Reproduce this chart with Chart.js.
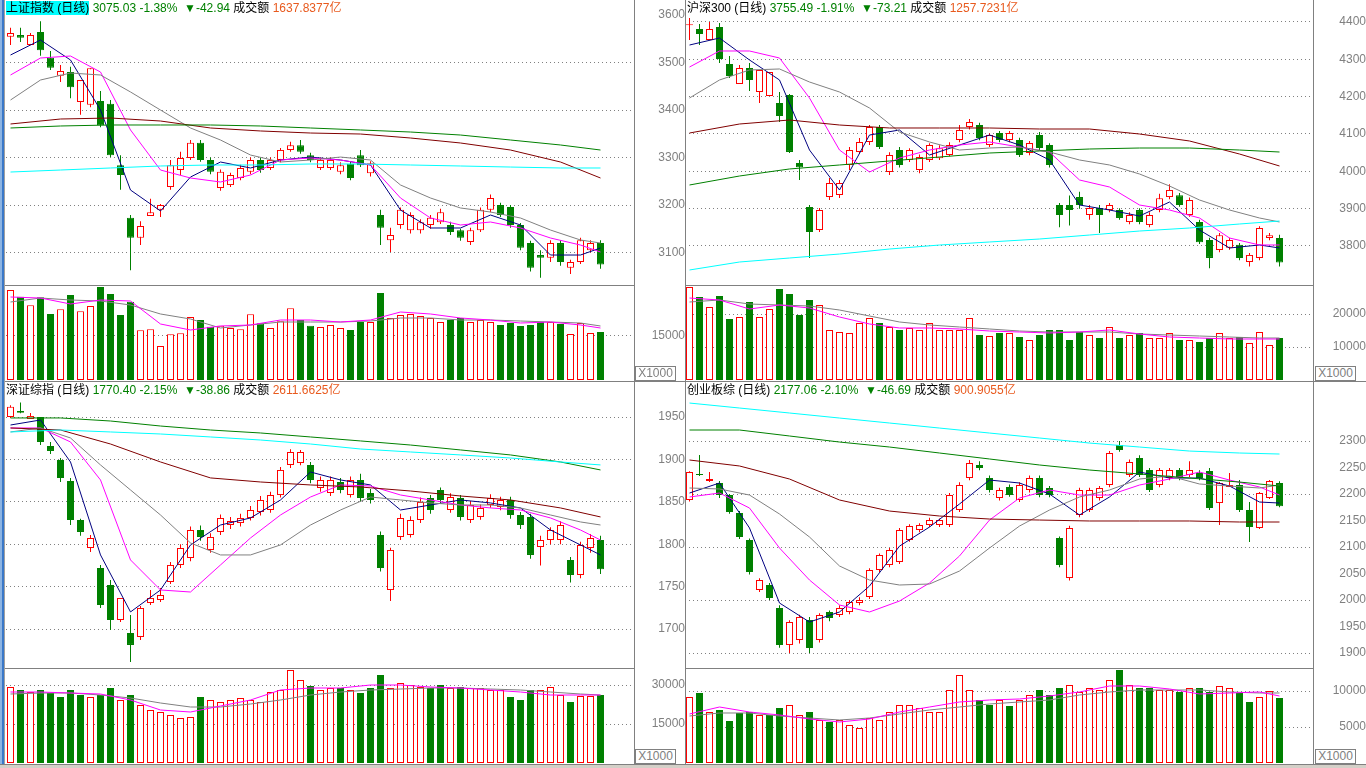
<!DOCTYPE html>
<html lang="zh-CN">
<head>
<meta charset="UTF-8">
<title>指数日线</title>
<script src="https://cdn.jsdelivr.net/npm/chart.js@4.4.1/dist/chart.umd.min.js"></script>
<style>
  body { margin:0; width:1366px; height:768px; overflow:hidden; position:relative; background:#fff;
         font-family:"Liberation Sans", "Noto Sans CJK SC", sans-serif; }
  canvas { position:absolute; }
  .ln { position:absolute; background:#808080; z-index:3; }
  .title { position:absolute; z-index:4; font-size:12px; line-height:15px; white-space:pre; color:#000; }
  .title .hl { background:#00ffff; }
  .title .g { color:#008000; }
  .title .o { color:#e85a1e; }
  .unit { position:absolute; z-index:4; width:39px; height:13px; border:1px solid #808080; color:#808080;
          font-size:12px; line-height:13px; text-align:center; background:#fff; }
</style>
</head>
<body>

<canvas id="shP" width="679" height="285" style="left:6px;top:0px"></canvas>
<canvas id="shV" width="679" height="94" style="left:6px;top:286px"></canvas>
<canvas id="hsP" width="681" height="285" style="left:685px;top:0px"></canvas>
<canvas id="hsV" width="681" height="94" style="left:685px;top:286px"></canvas>
<canvas id="szP" width="679" height="286" style="left:6px;top:382px"></canvas>
<canvas id="szV" width="679" height="94" style="left:6px;top:669px"></canvas>
<canvas id="cyP" width="681" height="286" style="left:685px;top:382px"></canvas>
<canvas id="cyV" width="681" height="94" style="left:685px;top:669px"></canvas>

<!-- frame -->
<div class="ln" style="left:0;top:0;width:2px;height:768px;background:#8db4e2"></div>
<div class="ln" style="left:2px;top:0;width:2px;height:768px;background:#3a78c8"></div>
<div class="ln" style="left:4px;top:0;width:1px;height:768px;background:#a0a0a0"></div>
<div class="ln" style="left:634px;top:0;width:1px;height:765px"></div>
<div class="ln" style="left:685px;top:0;width:1px;height:765px"></div>
<div class="ln" style="left:1313px;top:0;width:1px;height:765px"></div>
<div class="ln" style="left:5px;top:285px;width:629px;height:1px"></div>
<div class="ln" style="left:685px;top:285px;width:628px;height:1px"></div>
<div class="ln" style="left:5px;top:381px;width:1361px;height:1px"></div>
<div class="ln" style="left:5px;top:668px;width:629px;height:1px"></div>
<div class="ln" style="left:685px;top:668px;width:628px;height:1px"></div>
<div class="ln" style="left:0;top:764px;width:1366px;height:1px"></div>
<div class="ln" style="left:0;top:765px;width:1366px;height:3px;background:#d4d0c8"></div>

<div class="title" style="left:6px;top:1px"><span class="hl">上证指数 (日线)</span> <span class="g">3075.03 -1.38%  ▼-42.94</span> 成交额 <span class="o">1637.8377亿</span></div>
<div class="title" style="left:687px;top:1px">沪深300 (日线) <span class="g">3755.49 -1.91%  ▼-73.21</span> 成交额 <span class="o">1257.7231亿</span></div>
<div class="title" style="left:6px;top:383px">深证综指 (日线) <span class="g">1770.40 -2.15%  ▼-38.86</span> 成交额 <span class="o">2611.6625亿</span></div>
<div class="title" style="left:687px;top:383px">创业板综 (日线) <span class="g">2177.06 -2.10%  ▼-46.69</span> 成交额 <span class="o">900.9055亿</span></div>

<div class="unit" style="left:635px;top:366px">X1000</div>
<div class="unit" style="left:1315px;top:366px">X1000</div>
<div class="unit" style="left:635px;top:749px">X1000</div>
<div class="unit" style="left:1315px;top:749px">X1000</div>

<script>
// candle index positions of the moving-average readings
const shortIdx = [0,3,6,9,12,15,18,21,24,27,30,33,36,39,42,45,48,51,54,57,59];
const longIdx  = [0,5,10,15,20,25,30,35,40,45,50,55,59];

// ---- 上证指数 ----
const shO = [3554,3558,3537,3564,3510,3472,3480,3417,3411,3419,3413,3284,3173,3131,3177,3190,3238,3274,3299,3331,3295,3236,3242,3257,3270,3295,3278,3295,3316,3326,3305,3278,3278,3270,3287,3305,3267,3179,3126,3158,3147,3147,3158,3164,3158,3147,3122,3147,3190,3200,3196,3158,3120,3095,3089,3120,3068,3080,3105,3120];
const shC = [3562,3552,3558,3526,3489,3482,3448,3463,3488,3368,3305,3263,3131,3156,3185,3200,3284,3299,3331,3295,3270,3270,3263,3278,3295,3274,3295,3316,3326,3312,3295,3295,3295,3284,3257,3284,3288,3152,3137,3190,3179,3164,3173,3185,3143,3131,3147,3190,3215,3179,3158,3110,3068,3089,3120,3080,3080,3126,3120,3075.03];
const shH = [3573,3573,3562,3587,3524,3495,3491,3463,3488,3440,3421,3305,3179,3166,3213,3202,3295,3312,3337,3337,3300,3275,3268,3285,3300,3300,3300,3320,3333,3337,3310,3300,3300,3290,3292,3316,3292,3190,3152,3195,3185,3170,3179,3192,3165,3150,3152,3195,3222,3205,3200,3162,3125,3105,3126,3126,3085,3131,3126,3126];
const shL = [3537,3543,3537,3514,3484,3459,3425,3390,3406,3364,3301,3232,3063,3116,3177,3175,3232,3263,3295,3291,3265,3230,3238,3252,3265,3268,3274,3290,3312,3308,3290,3274,3274,3265,3252,3280,3260,3116,3101,3150,3140,3140,3150,3160,3137,3125,3116,3143,3185,3175,3152,3105,3060,3047,3080,3072,3055,3076,3100,3066];
const shVol = [30681,28397,25465,28192,22499,24102,28977,23420,25227,31704,29317,22159,26692,16943,17284,11591,15579,15920,21477,20454,18170,18511,17727,17284,22397,19329,17727,20011,24443,20454,18511,18068,18750,17727,17045,19772,19772,29658,21136,22159,22499,21818,21136,19772,20454,21136,19772,20454,19772,18750,19431,18409,18750,19772,19772,19090,15681,19431,16022,16363];
const shMa5  = [3515.8,3547.4,3505.3,3400,3231.6,3187.5,3259,3290.6,3278,3294.8,3301,3294.8,3284.3,3189.5,3151.7,3151.7,3179,3158,3094.8,3094.8,3109.6];
const shMa10 = [3473.7,3509.5,3513.7,3480,3358,3273.7,3256.9,3248.5,3263.2,3294.8,3299,3294.8,3284.3,3214.8,3172.7,3158,3164.3,3151.7,3130.6,3115.8,3101.1];
const shMa20 = [3421.1,3463.2,3477.9,3473.7,3438,3400,3362.2,3336.9,3305.3,3290.6,3294.8,3301,3294.8,3242.2,3214.8,3193.8,3185.3,3172.7,3147.4,3126.4,3120.1];
const shMa60  = [3370.6,3381.1,3383.2,3376.9,3362.2,3355.9,3351.6,3349.5,3341.1,3330.6,3315.8,3290.6,3256.9];
const shMa120 = [3362.2,3366.4,3368.5,3368.5,3368.5,3366.4,3362.2,3358,3353.7,3347.4,3336.9,3326.4,3315.8];
const shMa250 = [3269.5,3273.7,3278,3282.2,3284.3,3284.3,3286.4,3286.4,3284.3,3282.2,3280,3278,3278];
const shVolMa5  = [28295,27954,25908,27272,26931,19090,17045,18409,18750,20454,20454,19772,20454,23181,22500,21136,20454,19431,19772,18750,17727];
const shVolMa10 = [26590,27954,27272,26931,25568,22500,20795,17727,18750,19772,19772,19772,20113,21136,21136,20454,20454,20113,19772,19431,18409];
const shTicks = [3100,3200,3300,3400,3500,3600];
const shGrid  = [3100,3200,3300,3400,3500];
const shVolTicks = [15000];

// ---- 沪深300 ----
const hsO = [4391,4381.2,4351.7,4386.6,4287.4,4233.9,4276.7,4212.4,4201.7,4183,4204.4,4022,3904.3,3842.7,3931.1,3936.5,4016.9,4051.7,4078.5,4118.7,3998.3,4057,4030.3,4003.5,4030.3,4035,4043.7,4083.8,4118.7,4124,4070.4,4102.6,4083.8,4083.8,4049,4097.2,4070.4,3909.7,3909.7,3931,3882.9,3901.6,3896.3,3896.3,3864,3896,3856,3896,3931,3936,3883,3864,3816,3789,3795,3803,3757,3768,3821,3821];
const hsC = [4394,4367.8,4381.2,4300.8,4255.3,4276.7,4244.6,4271.4,4266,4148.1,4052,4011,3837.3,3896.3,3968.6,3968.6,4057,4078.5,4118.7,4065,4043.7,4016.9,4057,4038.3,4070.4,4062,4070.4,4110.6,4132,4089,4097.2,4083.8,4102.6,4043.7,4075.8,4062.4,4016.9,3882.9,3896.3,3909.7,3901.6,3882.9,3909.7,3875,3883,3864,3883,3928,3950,3910,3923,3810,3768,3829,3816,3768,3776,3848,3829,3755.49];
const hsH = [4410.7,4394.6,4400,4397.3,4308.9,4284.8,4290.1,4271.4,4266,4212.4,4207,4030,3909.7,3901.6,3982,3976.7,4065,4089,4124,4124,4051,4065,4062,4045,4075,4070,4078,4124,4140,4130,4102,4108,4108,4090,4081,4105,4075,3915,3935,3945,3910,3910,3915,3901,3890,3901,3890,3940,3965,3942,3930,3870,3822,3835,3822,3808,3781,3853,3835,3830];
const hsL = [4351.7,4338.3,4351.7,4290.1,4250,4233.9,4215.1,4183,4201.7,4132,4049,3976.7,3767.7,3837.3,3923.1,3928.5,4003.5,4046.4,4070.5,4060,3990,4010,4025,3995,4025,4030,4040,4078,4112,4083,4065,4078,4078,4038,4043,4057,4010,3850,3855,3900,3870,3835,3890,3870,3858,3858,3850,3890,3925,3905,3878,3805,3740,3783,3790,3762,3745,3762,3815,3745];
const hsVol = [28182,25151,22121,25454,18485,19091,23636,19091,21515,27576,26060,19697,24242,22727,15152,14545,14242,17273,18788,17273,16061,15152,15758,15152,17273,15152,15152,15152,18788,13636,13333,14242,14242,13030,12121,13636,15152,15152,12121,14545,13636,12727,16061,12727,13636,14242,12727,12727,14242,12121,12121,11515,12727,14242,12727,13030,11212,14545,10606,12727];
const hsMa5  = [4338.3,4357.1,4298.2,4244.6,4057,3949.9,4097.2,4110.6,4043.7,4070.4,4097.2,4070.4,4030.3,3909.7,3896.3,3880.2,3917.7,3842.7,3794.5,3802.6,3794.5];
const hsMa10 = [4279.4,4322.3,4322.3,4303.5,4196.4,4057,3998.1,4035.6,4057,4070.4,4078.5,4065.1,4051.7,3976.7,3957.9,3909.7,3896.3,3874.9,3821.3,3802.6,3802.6];
const hsMa20 = [4196.4,4244.6,4271.4,4274.1,4239.2,4212.4,4169.6,4105.3,4078.5,4057,4062.4,4065.1,4051.7,4030.3,4016.9,3992.8,3960.6,3923.1,3896.3,3874.9,3864.2];
const hsMa60  = [4102.6,4126.7,4137.4,4124,4116,4116,4116,4113.3,4113.3,4099.9,4081.2,4046.3,4014.2];
const hsMa120 = [3963.3,3987.4,4006.2,4016.9,4027.6,4038.3,4049,4054.4,4059.7,4062.4,4062.4,4057,4051.7];
const hsMa250 = [3735.6,3757,3767.7,3778.4,3791.8,3802.5,3810.6,3818.6,3829.3,3840,3848.1,3858.8,3866.8];
const hsVolMa5  = [24848,24242,21515,22727,21818,19091,16970,15758,15758,15455,14848,14545,14242,14545,15152,13939,13030,12727,12424,12424,12424];
const hsVolMa10 = [23636,24242,23030,22727,22424,21212,19394,17576,16667,16061,15455,14848,14545,14545,14545,13939,13636,13333,13030,12727,12727];
const hsTicks = [3800,3900,4000,4100,4200,4300,4400];
const hsVolTicks = [10000,20000];

// ---- 深证综指 ----
const szO = [1950,1957,1947.7,1950,1915.9,1899.4,1874.6,1828.6,1795.6,1772,1752,1710.7,1695.4,1690.7,1730.8,1734.3,1755.5,1775.6,1783.8,1816.8,1793.3,1814.5,1822.7,1825,1831,1838,1840.4,1858,1893.5,1895.8,1893.5,1866.4,1860.5,1873.4,1858,1875.8,1860.5,1811,1746,1808.6,1811,1828.6,1854.6,1864,1840.4,1854.6,1828.6,1832.2,1846.3,1844,1852.2,1834.5,1832.2,1796.8,1805,1805,1781.5,1763.8,1795.6,1805];
const szC = [1962,1955,1951.3,1920.6,1910,1878,1828.6,1814.5,1807.4,1728.4,1710.7,1736.7,1681.3,1724.9,1736.7,1740.2,1775.6,1795.6,1816.8,1808.6,1808.6,1831,1827.4,1831,1840.4,1852.2,1858,1887.6,1908.8,1908.8,1875.8,1875.8,1875.8,1864,1875.8,1854.6,1852.2,1772,1793.3,1831,1828.6,1849.9,1840.4,1852.2,1855.7,1832.2,1846.3,1842.8,1854.6,1852.2,1834.5,1822.7,1787.4,1805,1816.8,1822.7,1763.8,1799.1,1807.4,1770.40];
const szH = [1964,1967,1954.7,1950,1920.6,1901.7,1878.2,1830,1811,1775.6,1758,1736.7,1716.6,1727.2,1746,1748.5,1779,1800,1821,1822,1813,1835,1832,1836,1845,1857,1862,1891,1912,1911,1897,1880,1880,1878,1880,1883,1865,1815,1796,1836,1833,1855,1858,1867,1860,1858,1851,1847,1859,1856,1856,1838,1836,1810,1820,1827,1785,1803,1812,1810];
const szL = [1949,1954.6,1947.7,1917,1906.4,1873.4,1822.7,1810,1791,1724.9,1698.9,1708.3,1661.2,1687.1,1728.4,1732,1753.2,1772,1780,1804,1790,1811,1818,1821,1828,1834,1837,1855,1890,1893,1872,1862,1857,1860,1855,1850,1848,1768,1733,1805,1808,1825,1836,1848,1837,1828,1825,1829,1843,1840,1830,1818,1783,1775,1800,1800,1755,1760,1790,1765];
const szVol = [29230,28076,27307,28076,26922,25384,28076,26153,25384,26153,28845,24230,26153,22307,20384,19615,18461,17307,17692,25384,24230,23461,24230,24999,24230,23461,27307,28076,35768,31922,29614,28076,28845,28845,28076,26922,28845,33845,28845,30768,29999,29230,28845,29999,28845,29230,28845,28845,28076,28076,25384,24230,28076,28076,29230,26153,23461,25768,25768,26153];
const szMa5  = [1940.6,1946.5,1897,1787.4,1720.2,1746.1,1799.2,1822.7,1831,1852.2,1885.2,1875.8,1869.9,1840.4,1846.3,1852.2,1848.7,1842.8,1816.8,1799.2,1787.4];
const szMa10 = [1937.1,1937.1,1920.6,1875.8,1781.5,1746.1,1743.7,1775.6,1807.4,1834.5,1855.7,1869.9,1868.7,1858.1,1852.2,1846.3,1842.8,1840.4,1831,1816.8,1805];
const szMa20 = [1932.4,1937.1,1925.3,1893.5,1864,1834.5,1801.5,1787.4,1787.4,1799.2,1822.7,1840.4,1855.7,1852.2,1848.7,1846.3,1846.3,1842.8,1834.5,1826.3,1822.7];
const szMa60  = [1937.1,1934.7,1918.2,1897,1878.2,1873.4,1869.9,1867.5,1862.8,1856.9,1852.2,1842.8,1832.2];
const szMa120 = [1948.9,1948.9,1945.3,1939.4,1934.7,1931.2,1926.5,1921.8,1917,1911.2,1905.3,1897,1887.6];
const szMa250 = [1932.4,1934.7,1932.4,1930,1926.5,1922.9,1918.2,1912.3,1908.8,1905.3,1901.7,1897,1893.5];
const szVolMa5  = [27307,27307,26922,26537,24230,20384,19615,21922,24230,28076,28845,28845,29999,29999,29230,28845,28076,27307,26153,26153,26153];
const szVolMa10 = [26537,26922,26922,26153,24999,23076,21538,21538,22691,24230,26153,27307,28076,28460,28845,28845,28460,28076,27307,26537,26153];
const szTicks = [1700,1750,1800,1850,1900,1950];
const szVolTicks = [15000,30000];

// ---- 创业板综 ----
const cyO = [2188.7,2237.8,2224.5,2220.8,2198,2164.2,2113.2,2018.9,2028.3,1984.9,1915,1924.5,1962.3,1924.5,1977.4,1971.7,1977.4,1994.3,2005.7,2056.6,2066,2071.7,2113.2,2132.1,2141.5,2141.5,2141.5,2169.8,2230.2,2254.8,2230.2,2192.5,2213.3,2188.7,2207.6,2230.2,2211.4,2117,2041.5,2160.4,2169.8,2192.5,2217,2292.5,2235.9,2268,2245.3,2217,2230.2,2245.3,2236,2239.8,2243.4,2183,2213.3,2217,2169.8,2135.9,2192.5,2220.8];
const cyC = [2241.5,2235.9,2228.3,2198.1,2166,2118.9,2052.8,2037.7,2003.8,1915,1958.5,1968,1909.4,1971.7,1966,1984.9,1996.2,2000,2056.6,2084.9,2094.4,2132.1,2139.6,2141.5,2150.9,2150.9,2198.1,2217,2258.5,2249.1,2207.6,2207.6,2198.1,2217,2230.2,2198.1,2198.1,2066,2135.9,2207.6,2207.6,2211.4,2277.4,2283,2260.4,2235.9,2207.6,2245.3,2245.3,2230.2,2245.3,2230.2,2173.6,2220.8,2217,2169.8,2137.7,2201.9,2224.5,2177.06];
const cyH = [2243,2273.6,2241.5,2224.5,2200,2168,2116,2041,2032,1990,1962,1972,1968,1975,1980,1990,2000,2005,2060,2088,2098,2136,2143,2145,2155,2154,2202,2222,2264,2262,2235,2212,2218,2222,2235,2235,2215,2120,2140,2212,2212,2215,2281,2300,2265,2273,2249,2249,2249,2249,2262,2245,2249,2222.6,2239.8,2226.4,2185,2203.8,2226.4,2224];
const cyL = [2186,2234,2222.6,2192.5,2163,2115,2048,2015,2000,1910,1900,1918,1900,1920,1960,1968,1973,1990,2002,2053,2062,2068,2110,2128,2138,2138,2138,2166,2226,2245,2203,2188,2195,2185,2203,2194,2194,2062,2037,2156,2166,2188,2213,2280,2232,2232,2204,2213,2226,2226,2232,2226,2170,2141.5,2213.3,2166,2109.4,2134,2190.6,2175];
const cyVol = [9167,9723,7084,7362,5834,6945,7084,6667,6667,7640,8056,6667,7084,5973,5695,5973,5278,4862,6250,5973,7084,8056,8056,7640,7084,7084,10140,12223,10140,8751,8056,8751,7917,8751,9445,10140,9445,10418,10834,9862,10418,10140,11529,12918,10834,10418,10418,10140,10140,9862,10418,10418,9862,10695,10418,9723,8473,9167,10001,9029];
const cyMa5  = [2201.9,2220.8,2135.9,1994.3,1958.5,1977.4,2026.4,2101.7,2137.7,2181.2,2226.4,2220.8,2200,2160.4,2194.4,2241.5,2230.2,2230.2,2215.1,2184.9,2183];
const cyMa10 = [2194.4,2201.9,2173.6,2098.1,2037.7,1990.6,1977.4,1998.1,2032.1,2083.1,2150.9,2192.5,2207.6,2198.1,2198.1,2217,2228.3,2241.5,2226.4,2213.3,2198.1];
const cyMa20 = [2211.4,2209.5,2198.1,2162.3,2118.9,2064.2,2037.7,2028.3,2030.2,2054.7,2098.1,2139.6,2169.8,2194.4,2207.6,2228.3,2234,2218.9,2215.1,2211.4,2217];
const cyMa60  = [2264.2,2252.9,2228.3,2188.7,2167.9,2158.5,2152.8,2150.9,2149.1,2149.1,2149.1,2147.2,2147.2];
const cyMa120 = [2320.8,2320.8,2309.5,2298.1,2288.7,2277.4,2266.1,2254.8,2245.3,2237.8,2230.2,2222.6,2215.1];
const cyMa250 = [2371.7,2362.3,2352.9,2343.4,2334,2324.5,2315.1,2305.7,2296.2,2288.7,2281.1,2277.4,2275.5];
const cyVolMa5  = [6806,7778,7084,6667,6112,5695,6112,7084,7778,8473,8751,8890,9306,9862,10695,10695,10279,9584,9723,9862,9306];
const cyVolMa10 = [6528,6945,6945,6528,6250,5973,6250,6806,7362,7778,8195,8473,8751,9445,9862,10140,10140,10140,9862,9723,9723];
const cyTicks = [1900,1950,2000,2050,2100,2150,2200,2250,2300];
const cyGrid  = [1900,2000,2100,2200,2300];
const cyVolTicks = [5000,10000];

const RED = '#ff0000', GREEN = '#008000', GREY = '#808080';
const C_MA5 = '#000080', C_MA10 = '#ff00ff', C_MA20 = '#808080', C_MA60 = '#800000', C_MA120 = '#008000', C_MA250 = '#00ffff';
const X_MIN = -0.45, X_MAX = 62.35;
const AXIS_FONT = { family: '"Liberation Sans", Arial, sans-serif', size: 12 };

function lineSet(idx, vals, color) {
  return { type: 'line', data: idx.map((x, k) => ({ x: x, y: vals[k] })), borderColor: color,
           borderWidth: 1, pointRadius: 0, tension: 0, order: 0 };
}

function yAxis(min, max, ticks, grid, axisW, pad) {
  return {
    position: 'right', min: min, max: max,
    afterBuildTicks: a => { a.ticks = ticks.map(v => ({ value: v })); },
    afterFit: a => { a.width = axisW; a.paddingTop = 0; a.paddingBottom = 0; },
    ticks: { autoSkip: false, color: GREY, font: AXIS_FONT, padding: pad, crossAlign: 'far', callback: v => String(v) },
    grid: { drawTicks: false, lineWidth: 1,
            color: ctx => (ctx.tick && grid.includes(ctx.tick.value)) ? GREY : 'rgba(0,0,0,0)' },
    border: { display: false, dash: [1, 3] }
  };
}

function baseOptions(y) {
  return {
    responsive: false, animation: false, devicePixelRatio: 1, events: [],
    layout: { padding: 0 },
    plugins: { legend: { display: false }, tooltip: { enabled: false } },
    scales: { x: { type: 'linear', min: X_MIN, max: X_MAX, offset: false, display: false }, y: y }
  };
}

function priceChart(id, o, h, l, c, lines, min, max, ticks, grid, axisW, pad) {
  const up = c.map((v, i) => v >= o[i]);
  const datasets = lines.map(s => lineSet(s[0], s[1], s[2]));
  datasets.push({ type: 'bar', data: c.map((v, i) => ({ x: i, y: [o[i], v] })),
    backgroundColor: up.map(u => u ? '#ffffff' : GREEN), borderColor: up.map(u => u ? RED : GREEN),
    borderWidth: 1, borderSkipped: false, grouped: false, maxBarThickness: 7, inflateAmount: 0, order: 1 });
  datasets.push({ type: 'bar', data: c.map((v, i) => ({ x: i, y: [l[i], h[i]] })),
    backgroundColor: up.map(u => u ? RED : GREEN), grouped: false, maxBarThickness: 1, inflateAmount: 0, order: 2 });
  new Chart(document.getElementById(id), { type: 'bar', data: { datasets }, options: baseOptions(yAxis(min, max, ticks, grid, axisW, pad)) });
}

function volumeChart(id, o, c, vol, ma5, ma10, max, ticks, axisW, pad) {
  const up = c.map((v, i) => v >= o[i]);
  const datasets = [lineSet(shortIdx, ma5, C_MA10), lineSet(shortIdx, ma10, C_MA20)];
  datasets.push({ type: 'bar', data: vol.map((v, i) => ({ x: i, y: v })),
    backgroundColor: up.map(u => u ? '#ffffff' : GREEN), borderColor: up.map(u => u ? RED : GREEN),
    borderWidth: 1, borderSkipped: false, grouped: false, maxBarThickness: 7, inflateAmount: 0, order: 1 });
  new Chart(document.getElementById(id), { type: 'bar', data: { datasets }, options: baseOptions(yAxis(0, max, ticks, ticks, axisW, pad)) });
}

function maLines(m5, m10, m20, m60, m120, m250) {
  return [[longIdx, m250, C_MA250], [longIdx, m120, C_MA120], [longIdx, m60, C_MA60],
          [shortIdx, m20, C_MA20], [shortIdx, m10, C_MA10], [shortIdx, m5, C_MA5]];
}

priceChart('shP', shO, shH, shL, shC, maLines(shMa5, shMa10, shMa20, shMa60, shMa120, shMa250), 3031.7, 3631.6, shTicks, shGrid, 51, 21);
volumeChart('shV', shO, shC, shVol, shVolMa5, shVolMa10, 32045, shVolTicks, 51, 16);
priceChart('hsP', hsO, hsH, hsL, hsC, maLines(hsMa5, hsMa10, hsMa20, hsMa60, hsMa120, hsMa250), 3695.4, 4458.9, hsTicks, hsTicks, 53, 22);
volumeChart('hsV', hsO, hsC, hsVol, hsVolMa5, hsVolMa10, 28485, hsVolTicks, 53, 17);
priceChart('szP', szO, szH, szL, szC, maLines(szMa5, szMa10, szMa20, szMa60, szMa120, szMa250), 1654.1, 1991.3, szTicks, szTicks, 51, 21);
volumeChart('szV', szO, szC, szVol, szVolMa5, szVolMa10, 36154, szVolTicks, 51, 16);
priceChart('cyP', cyO, cyH, cyL, cyC, maLines(cyMa5, cyMa10, cyMa20, cyMa60, cyMa120, cyMa250), 1871.7, 2411.4, cyTicks, cyGrid, 53, 22);
volumeChart('cyV', cyO, cyC, cyVol, cyVolMa5, cyVolMa10, 13056, cyVolTicks, 53, 17);
</script>
</body>
</html>
